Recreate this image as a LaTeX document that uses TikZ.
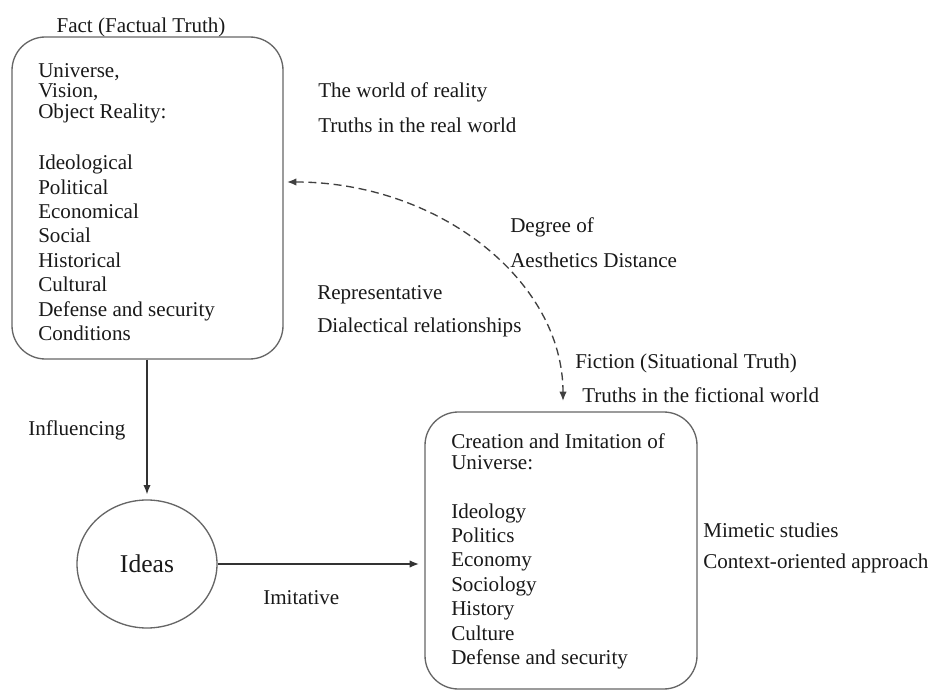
\documentclass[tikz,border=0pt]{standalone}
\usepackage{fontspec}
\setmainfont{Liberation Serif}
\usetikzlibrary{arrows.meta,shapes.geometric}
\begin{document}
\begin{tikzpicture}[x=0.75pt,y=-0.75pt,
  txt/.style={font=\fontsize{15.8}{18.3}\selectfont, text=black!90, inner sep=0pt},
  lbl/.style={txt, anchor=west},
  block/.style={txt, anchor=north west, align=left},
  panel/.style={draw=black!60, line width=1pt, rounded corners=25pt, inner sep=0pt},
  conn/.style={draw=black!80, line width=1pt, -{Latex[length=7pt,width=5.5pt]}},
  dconn/.style={draw=black!75, line width=1pt, dash pattern=on 6pt off 3.5pt,
    {Latex[length=7pt,width=5.5pt]}-{Latex[length=7pt,width=5.5pt]}},
]
\useasboundingbox (0,0) rectangle (928,691);

% the real world
\node[panel, minimum width=203.25pt, minimum height=241.5pt] (fact) at (147.5,198) {};
\node[txt] (factTitle) at (141,27) {Fact (Factual Truth)};
\node[block] (factText) at (38,63) {Universe,\\[-3pt]
  Vision,\\[-3pt]
  Object Reality:\\[20.5pt]
  Ideological\\
  Political\\
  Economical\\
  Social\\
  Historical\\
  Cultural\\
  Defense and security\\
  Conditions};

% ideas
\node[ellipse, draw=black!60, line width=1pt, minimum width=105pt, minimum height=96pt,
  font=\fontsize{19.2}{22}\selectfont, text=black!90] (ideas) at (147,564) {Ideas};

% the fictional world
\node[panel, minimum width=204pt, minimum height=207.75pt] (creation) at (561,550.5) {};
\node[block] (creationText) at (451,433) {Creation and Imitation of\\[-2.5pt]
  Universe:\\[18.4pt]
  Ideology\\
  Politics\\
  Economy\\
  Sociology\\
  History\\
  Culture\\
  Defense and security};

% connectors
\draw[conn, shorten >=3.75pt] (fact.south -| ideas.north) -- (ideas.north);
\draw[conn, shorten >=4pt] (ideas.east) -- (ideas.east -| creation.west);
\coordinate (arcL) at (287,182);
\coordinate (arcB) at (563,401);
\draw[dconn] (arcL) .. controls (438,182) and (563,280) .. (arcB);

% side labels
\node[lbl] (reality1) at (318,92) {The world of reality};
\node[lbl] (reality2) at (318,125) {Truths in the real world};
\node[lbl] (degree1) at (510,227) {Degree of};
\node[lbl] (degree2) at (510,260) {Aesthetics Distance};
\node[lbl] (repr1) at (317,295) {Representative};
\node[lbl] (repr2) at (317,327) {Dialectical relationships};
\node[lbl] (fiction1) at (575,363) {Fiction (Situational Truth)};
\node[lbl] (fiction2) at (582,395) {Truths in the fictional world};
\node[lbl] (influence) at (28,430) {Influencing};
\node[lbl] (imitative) at (263,598) {Imitative};
\node[lbl] (mimetic1) at (703,530) {Mimetic studies};
\node[lbl] (mimetic2) at (703,563) {Context-oriented approach};
\end{tikzpicture}
\end{document}
